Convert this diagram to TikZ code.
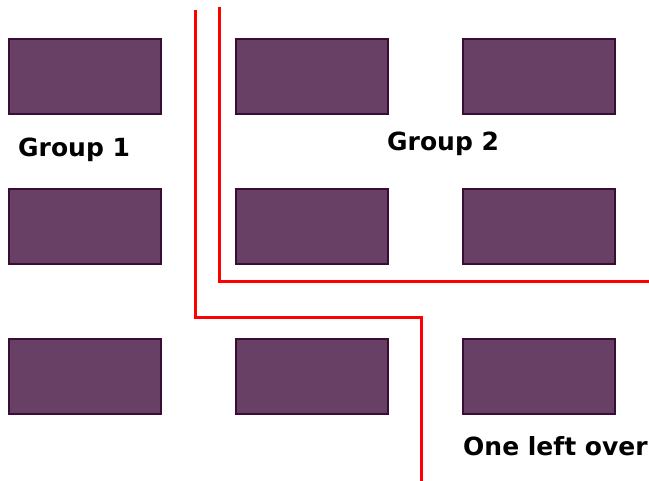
\documentclass[tikz,border=0pt]{standalone}
\usepackage{fontspec}
\setsansfont{DejaVu Sans}
\usetikzlibrary{positioning}
\definecolor{plum}{RGB}{104,64,102}
\definecolor{plumdark}{RGB}{58,14,52}
\definecolor{split}{RGB}{255,0,0}
\tikzset{
  desk/.style={draw=plumdark,fill=plum,line width=2pt,
    minimum width=152pt,minimum height=75pt,inner sep=0pt},
  divider/.style={draw=split,line width=3pt},
  grouplabel/.style={font=\sffamily\bfseries\fontsize{25}{27}\selectfont,text=black,inner sep=0pt},
}
\begin{document}
\begin{tikzpicture}[x=1pt,y=-1pt]
  \useasboundingbox (0,0) rectangle (649,481);
  % desks, three rows of three
  \foreach \r/\y in {1/77,2/227,3/377}
    \foreach \c/\x in {1/84.5,2/311.5,3/538.5}
      \node[desk] (desk\r\c) at (\x,\y) {};
  % the two splits
  \draw[divider] (195,10) -- (195,318) -- (421,318) -- (421,481);
  \draw[divider] (219,7) -- (219,282) -- (649,282);
  % labels
  \node[grouplabel,anchor=west] (g1) at (18,150) {Group 1};
  \node[grouplabel,anchor=west] (g2) at (387,144) {Group 2};
  \node[grouplabel,anchor=west] (left) at (463,446) {One left over};
\end{tikzpicture}
\end{document}
